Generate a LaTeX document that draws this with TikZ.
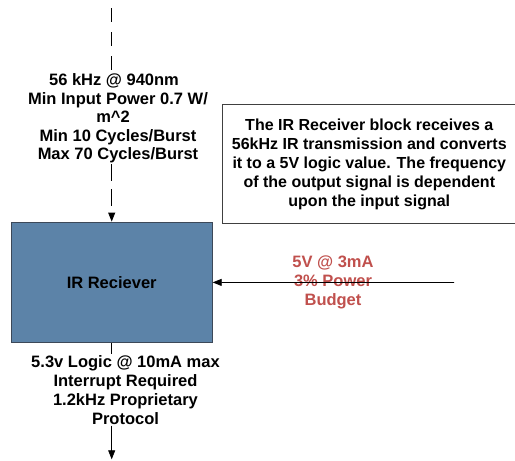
\documentclass[tikz,border=0pt]{standalone}
\usepackage{fontspec}
\setmainfont{Liberation Sans}
\usetikzlibrary{arrows.meta}
\definecolor{blockblue}{RGB}{92,131,168}
\definecolor{blockedge}{RGB}{60,72,88}
\definecolor{pwrred}{RGB}{192,80,77}
\tikzset{
  lbl/.style={font=\bfseries\fontsize{16.5}{18.5}\selectfont, align=center, inner sep=1pt},
  wirearrow/.style={-{Triangle[length=9pt,width=7pt]}, line width=0.8pt},
  dashwire/.style={line width=0.8pt, dash pattern=on 14pt off 10pt},
}
\begin{document}
\begin{tikzpicture}[x=1pt,y=-1pt]
\useasboundingbox (0,0) rectangle (515,461);

% receiver block
\node[draw=blockedge, fill=blockblue, line width=0.9pt, minimum width=201pt, minimum height=120.7pt,
      lbl] (rx) at (111.7,282.4) {IR Reciever};

% description box
\node[draw=black!75, line width=0.9pt, minimum width=293.3pt, minimum height=118.3pt,
      lbl, font=\bfseries\fontsize{16}{19}\selectfont] (desc) at (369.3,163.9)
  {The IR Receiver block receives a\\56kHz IR transmission and converts\\it to a 5V logic value. The frequency\\of the output signal is dependent\\upon the input signal};

% optical input
\coordinate (irsrc) at (111.7,8);
\node[lbl, fill=white] (inlbl) at (118,118.5)
  {56 kHz @ 940nm\kern8pt\\Min Input Power 0.7 W/\\m\^{}2\kern10pt\\Min 10 Cycles/Burst\\Max 70 Cycles/Burst};
\draw[dashwire] (irsrc) -- (irsrc |- inlbl.north);
\draw[dashwire, wirearrow, dash pattern=on 17pt off 8pt] (irsrc |- inlbl.south) -- (rx.north);

% power input
\node[lbl, text=pwrred, font=\bfseries\fontsize{16.5}{18.85}\selectfont] (pwr) at (333,282.5)
  {5V @ 3mA\\3\% Power\\Budget};
\coordinate (pwrsrc) at (454,282.5);
\draw[wirearrow] (pwrsrc) -- (rx.east);

% logic output
\coordinate (outdst) at (111.7,459.3);
\node[lbl, fill=white, font=\bfseries\fontsize{16.5}{18.9}\selectfont] (outlbl) at (125.5,390)
  {5.3v Logic @ 10mA max\\Interrupt Required\\1.2kHz Proprietary\\Protocol};
\draw[line width=0.8pt] (rx.south) -- (rx.south |- outlbl.north);
\draw[wirearrow] (rx.south |- outlbl.south) -- (outdst);
\end{tikzpicture}
\end{document}
